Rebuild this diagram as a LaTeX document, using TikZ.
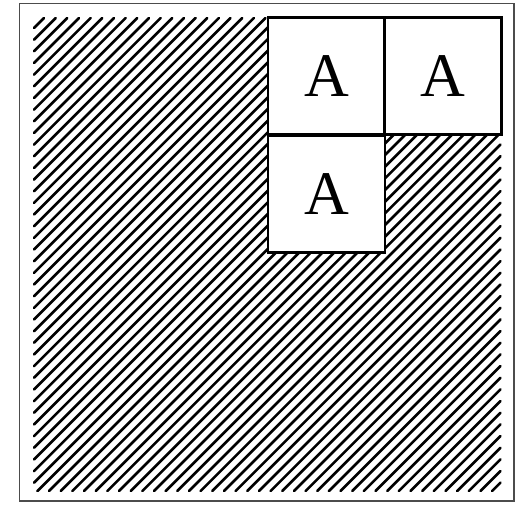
\documentclass[tikz,border=0pt]{standalone}
\usepackage{fontspec}
\setmainfont{Liberation Serif}
\begin{document}
\begin{tikzpicture}[x=1pt,y=-1pt,
  cell/.style={draw=black,line width=2.2pt,fill=white,minimum size=117pt,inner sep=0pt,outer sep=0pt,font=\fontsize{62}{62}\selectfont},
  hatchline/.style={line width=2.6pt,line cap=round},
  frameline/.style={line width=1.8pt,draw=black!70}]
\useasboundingbox (0,0) rectangle (524,504);
\draw[frameline] (19.5,3.5) rectangle (514,501);
\foreach \k in {0,...,79}{
  \pgfmathsetmacro\c{62+11.66*\k}
  \pgfmathsetmacro\xa{max(34,\c-491)}
  \pgfmathsetmacro\xb{min(500.5,\c-18)}
  \draw[hatchline] (\xa,\c-\xa) -- (\xb,\c-\xb);
}
\node[cell] (a1) at (326.5,76) {A};
\node[cell] (a2) at (443,76) {A};
\node[cell] (a3) at (326.5,194) {A};
\end{tikzpicture}
\end{document}
